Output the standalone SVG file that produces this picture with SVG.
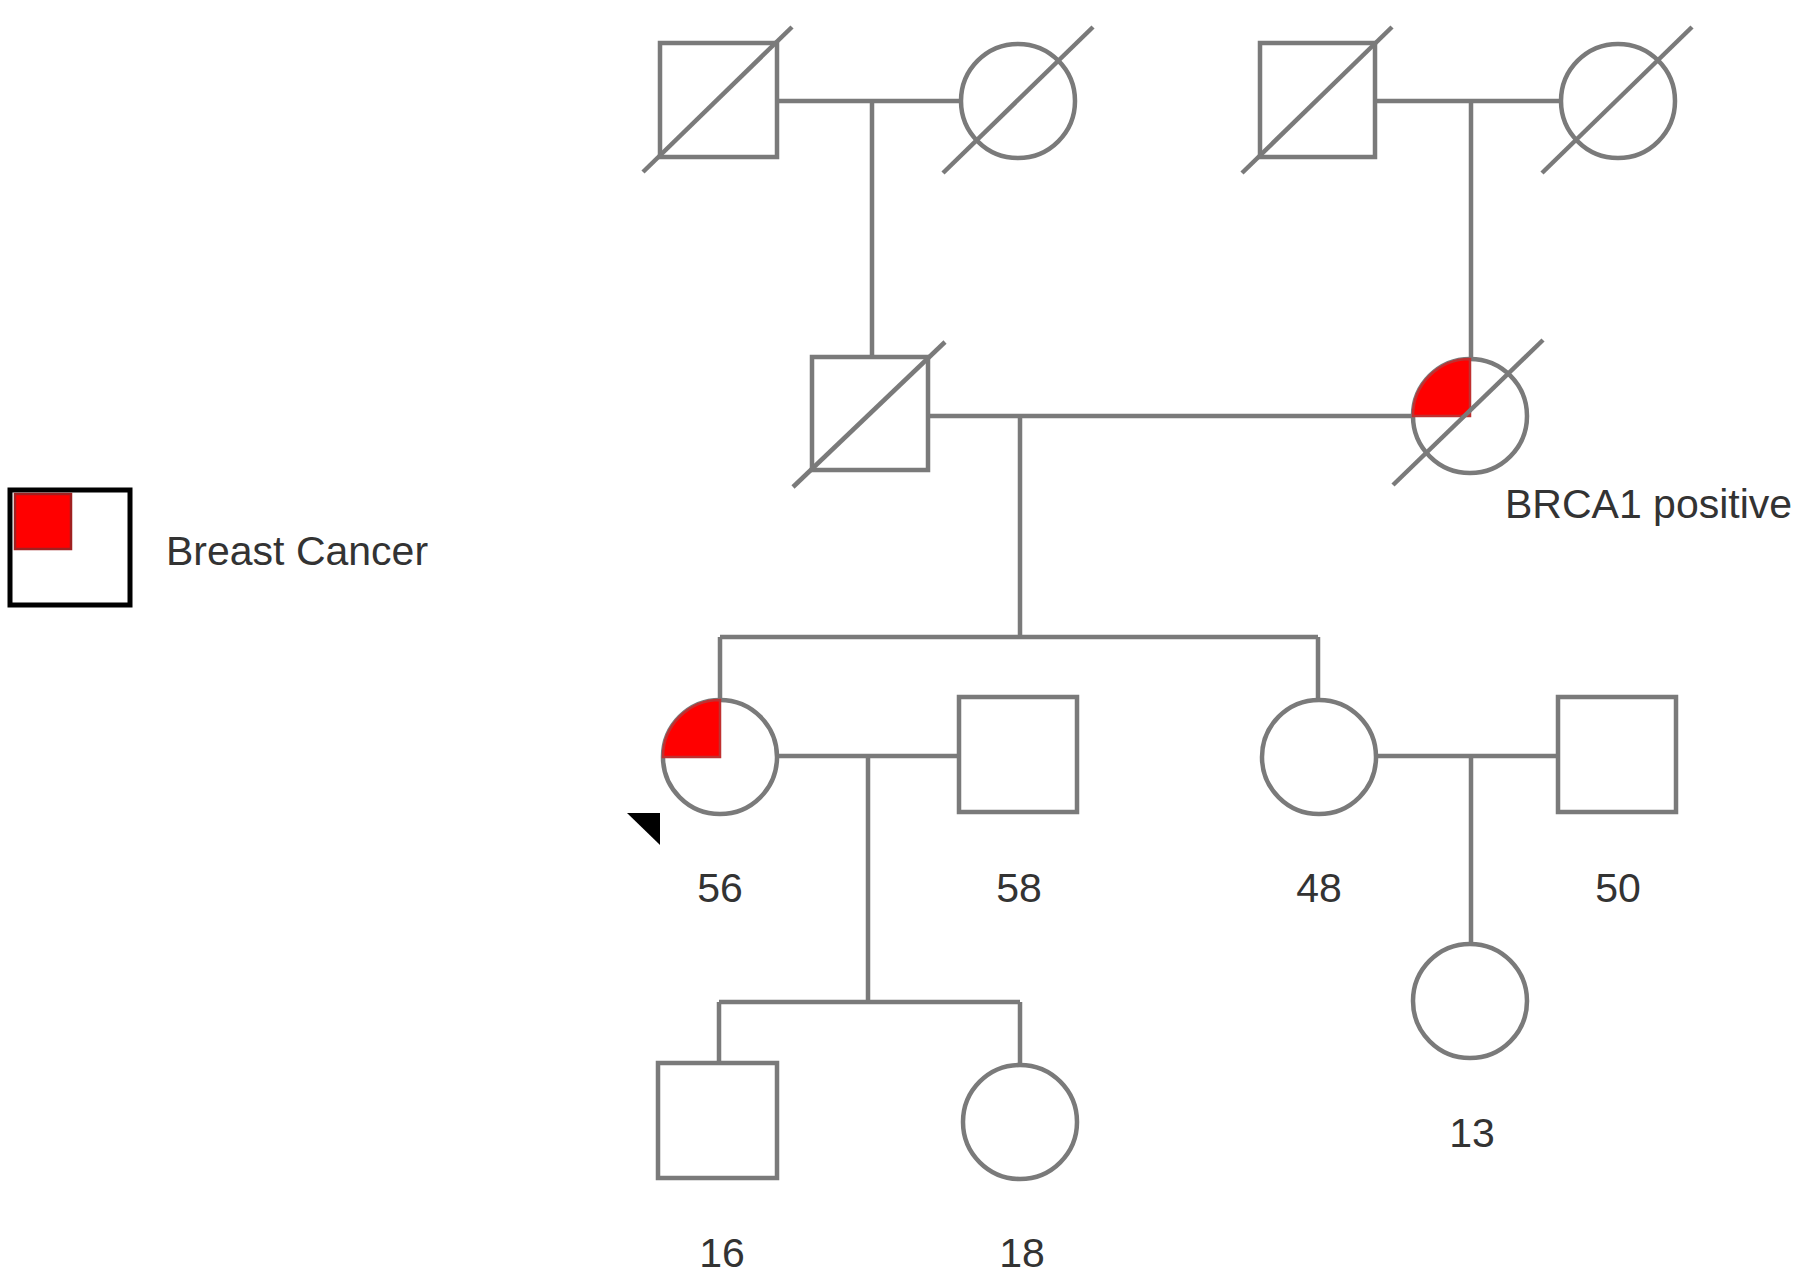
<svg xmlns="http://www.w3.org/2000/svg" width="1797" height="1287" viewBox="0 0 1797 1287">
<style>
.sym{fill:#fff;stroke:#7a7a7a;stroke-width:4.5}
.dec{stroke:#7a7a7a;stroke-width:4.5;fill:none}
.aff{fill:#ff0000;stroke:#c03030;stroke-width:2.5}
.lk{stroke:#7a7a7a;stroke-width:4.5;fill:none}
.lbl{font-family:"Liberation Sans",Arial,sans-serif;font-size:41px;fill:#333;text-anchor:middle}
.txt{font-family:"Liberation Sans",Arial,sans-serif;font-size:41px;fill:#333}
</style>
<rect width="1797" height="1287" fill="#fff"/>
<g id="connectors">
<path class="lk" d="M777,101 H961 M872,101 V356"/>
<path class="lk" d="M1375,101 H1561 M1471,101 V359"/>
<path class="lk" d="M928,416 H1413 M1020,416 V637 M720,637 H1318 M720,637 V700 M1318,637 V700"/>
<path class="lk" d="M777,756 H959 M868,756 V1002 M719,1002 H1020 M719,1002 V1063 M1020,1002 V1065"/>
<path class="lk" d="M1377,756 H1558 M1471,756 V944"/>
</g>
<g id="gp1-father"><rect class="sym" x="660" y="43" width="117" height="114"/><line class="dec" x1="643" y1="172" x2="792" y2="27"/></g>
<g id="gp1-mother"><circle class="sym" cx="1018" cy="101" r="57"/><line class="dec" x1="943" y1="173" x2="1093" y2="27"/></g>
<g id="gp2-father"><rect class="sym" x="1260" y="43" width="115" height="114"/><line class="dec" x1="1242" y1="173" x2="1392" y2="27"/></g>
<g id="gp2-mother"><circle class="sym" cx="1618" cy="101" r="57"/><line class="dec" x1="1542" y1="173" x2="1692" y2="27"/></g>
<g id="father"><rect class="sym" x="812" y="357" width="116" height="113"/><line class="dec" x1="793" y1="487" x2="945" y2="342"/></g>
<g id="mother"><circle class="sym" cx="1470" cy="416" r="57"/><path class="aff" d="M1470,416 H1413 A57,57 0 0 1 1470,359 Z"/><line class="dec" x1="1393" y1="485" x2="1543" y2="340"/><text class="txt" x="1505" y="518">BRCA1 positive</text></g>
<g id="proband"><circle class="sym" cx="720" cy="757" r="57"/><path class="aff" d="M720,757 H663 A57,57 0 0 1 720,700 Z"/><polygon points="627,813 660,813 660,845" fill="#000"/><text class="lbl" x="720" y="902">56</text></g>
<g id="spouse"><rect class="sym" x="959" y="697" width="118" height="115"/><text class="lbl" x="1019" y="902">58</text></g>
<g id="sister"><circle class="sym" cx="1319" cy="757" r="57"/><text class="lbl" x="1319" y="902">48</text></g>
<g id="sister-spouse"><rect class="sym" x="1558" y="697" width="118" height="115"/><text class="lbl" x="1618" y="902">50</text></g>
<g id="niece"><circle class="sym" cx="1470" cy="1001" r="57"/><text class="lbl" x="1472" y="1147">13</text></g>
<g id="son"><rect class="sym" x="658" y="1063" width="119" height="115"/><text class="lbl" x="722" y="1267">16</text></g>
<g id="daughter"><circle class="sym" cx="1020" cy="1122" r="57"/><text class="lbl" x="1022" y="1267">18</text></g>
<g id="legend"><rect x="10" y="490" width="120" height="115" fill="#fff" stroke="#000" stroke-width="5"/><rect x="15" y="494" width="56" height="55" fill="#ff0000" stroke="#a02020" stroke-width="2.5"/><text class="txt" x="166" y="565">Breast Cancer</text></g>
</svg>
